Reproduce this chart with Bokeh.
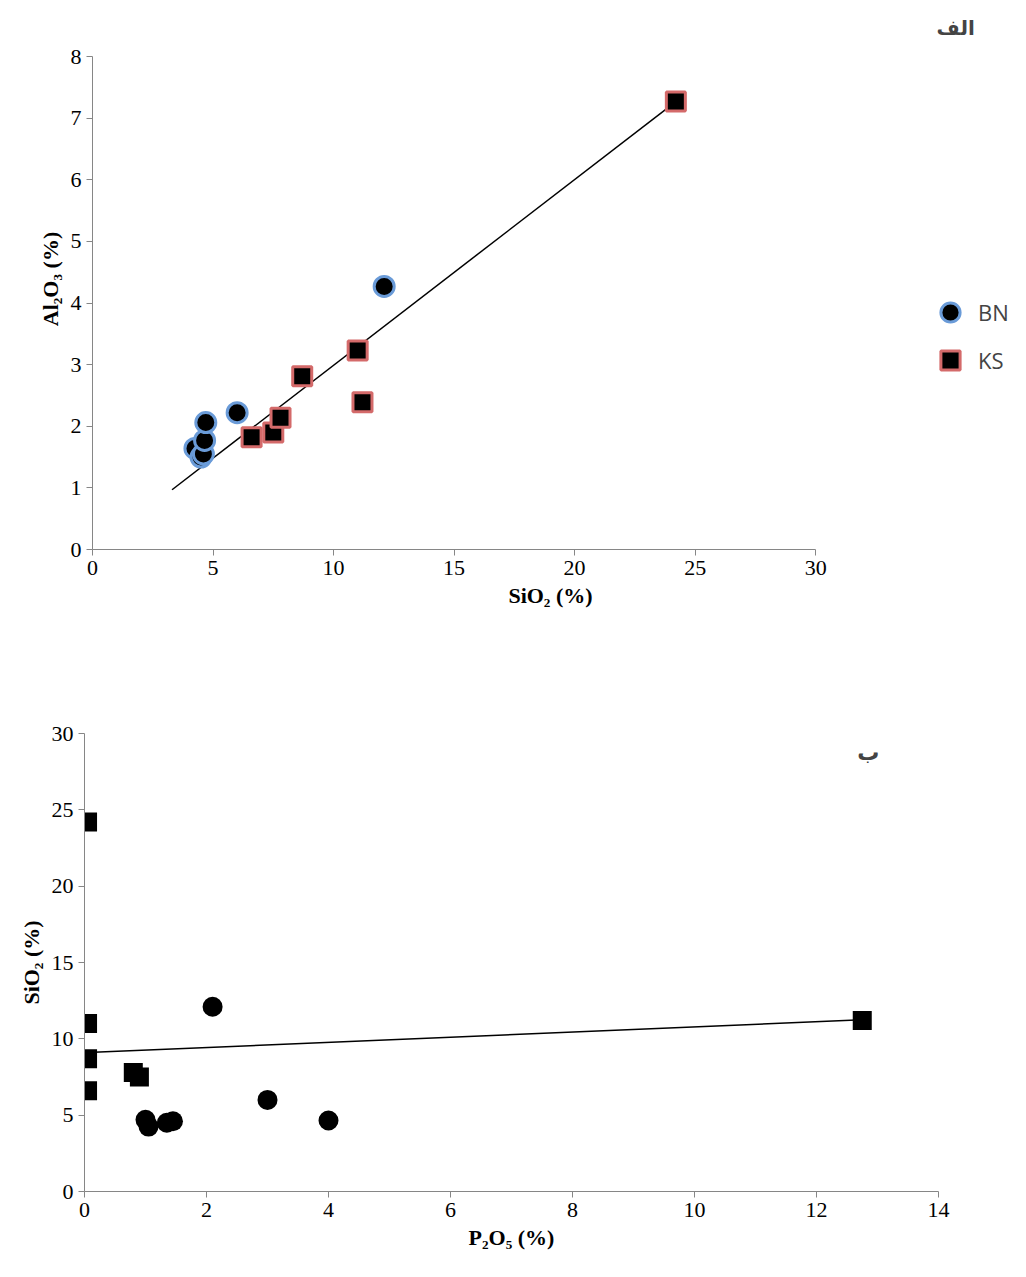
from bokeh.models import Label, Legend, LegendItem, SingleIntervalTicker, Range1d
from bokeh.plotting import figure
from bokeh.embed import file_html
from bokeh.resources import INLINE

# BN samples
bn_sio2 = [4.25, 4.5, 4.6, 4.65, 4.7, 6.0, 12.1]
bn_al2o3 = [1.64, 1.5, 1.55, 1.77, 2.06, 2.22, 4.27]
bn_p2o5 = [1.05, 1.35, 1.45, 4.0, 1.0, 3.0, 2.1]
# KS samples
ks_sio2 = [6.6, 7.5, 7.8, 8.7, 11.0, 11.2, 24.2]
ks_al2o3 = [1.82, 1.9, 2.14, 2.81, 3.23, 2.39, 7.27]
ks_p2o5 = [0.05, 0.9, 0.8, 0.05, 0.05, 12.75, 0.05]

# trend lines
trend1_x = [3.3, 24.2]
trend1_y = [0.97, 7.27]
trend2_x = [0.05, 12.75]
trend2_y = [9.1, 11.25]

SERIF = "Liberation Serif"


def style(p):
    p.xgrid.visible = False
    p.ygrid.visible = False
    p.outline_line_color = None
    for ax in (p.xaxis, p.yaxis):
        ax.axis_line_color = "#868686"
        ax.major_tick_line_color = "#868686"
        ax.minor_tick_line_color = None
        ax.major_tick_out = 6
        ax.major_tick_in = 0
        ax.major_label_text_font = SERIF
        ax.major_label_text_font_size = "22px"
        ax.major_label_text_color = "#000000"
        ax.axis_label_text_font = SERIF
        ax.axis_label_text_font_style = "bold"
        ax.axis_label_text_font_size = "22px"
        ax.axis_label_text_color = "#000000"


# ---- chart 1 (ranges extend past the axes so legend and label sit inside the frame)
p1 = figure(width=1018, height=658, output_backend="svg", toolbar_location=None,
            x_range=Range1d(0, 38.0), y_range=Range1d(0, 8.78),
            min_border_left=92, min_border_top=8, min_border_bottom=109, min_border_right=10)
style(p1)
p1.xaxis.bounds = (0, 30)
p1.yaxis.bounds = (0, 8)
p1.xaxis.ticker = SingleIntervalTicker(interval=5)
p1.yaxis.ticker = SingleIntervalTicker(interval=1)
p1.xaxis.axis_label = "SiO₂ (%)"
p1.yaxis.axis_label = "Al₂O₃ (%)"

p1.line(trend1_x, trend1_y, line_color="black", line_width=1.5)
r_bn = p1.scatter(bn_sio2, bn_al2o3, marker="circle", size=20, fill_color="black",
                  line_color="#6a9bd8", line_width=3)
r_ks = p1.scatter(ks_sio2, ks_al2o3, marker="square", size=19, fill_color="black",
                  line_color="#d46a6a", line_width=3)
leg = Legend(items=[LegendItem(label="BN", renderers=[r_bn]), LegendItem(label="KS", renderers=[r_ks])],
             location=(834, 165), border_line_color=None, background_fill_alpha=0,
             label_text_font="Open Sans", label_text_font_size="22px", label_standoff=4,
             glyph_width=48, glyph_height=48, spacing=-5, padding=0)
p1.add_layout(leg)
p1.add_layout(Label(x=36.6, y=8.46, text="الف", text_font="DejaVu Sans", text_font_style="bold",
                    text_font_size="20px", text_align="right", text_baseline="middle"))

# ---- chart 2
p2 = figure(width=1018, height=615, output_backend="svg", toolbar_location=None,
            x_range=Range1d(0, 14), y_range=Range1d(0, 30),
            min_border_left=84, min_border_top=75, min_border_bottom=82, min_border_right=80)
style(p2)
p2.xaxis.ticker = SingleIntervalTicker(interval=2)
p2.yaxis.ticker = SingleIntervalTicker(interval=5)
p2.xaxis.axis_label = "P₂O₅ (%)"
p2.yaxis.axis_label = "SiO₂ (%)"
p2.line(trend2_x, trend2_y, line_color="black", line_width=1.5)
p2.scatter(bn_p2o5, bn_sio2, marker="circle", size=20, fill_color="black", line_color=None)
p2.scatter(ks_p2o5, ks_sio2, marker="square", size=19, fill_color="black", line_color=None)
p2.add_layout(Label(x=12.85, y=28.75, text="ب", text_font="DejaVu Sans", text_font_style="bold",
                    text_font_size="22px", text_align="center", text_baseline="middle"))

open("out.html", "w").write(file_html([p1, p2], INLINE))
